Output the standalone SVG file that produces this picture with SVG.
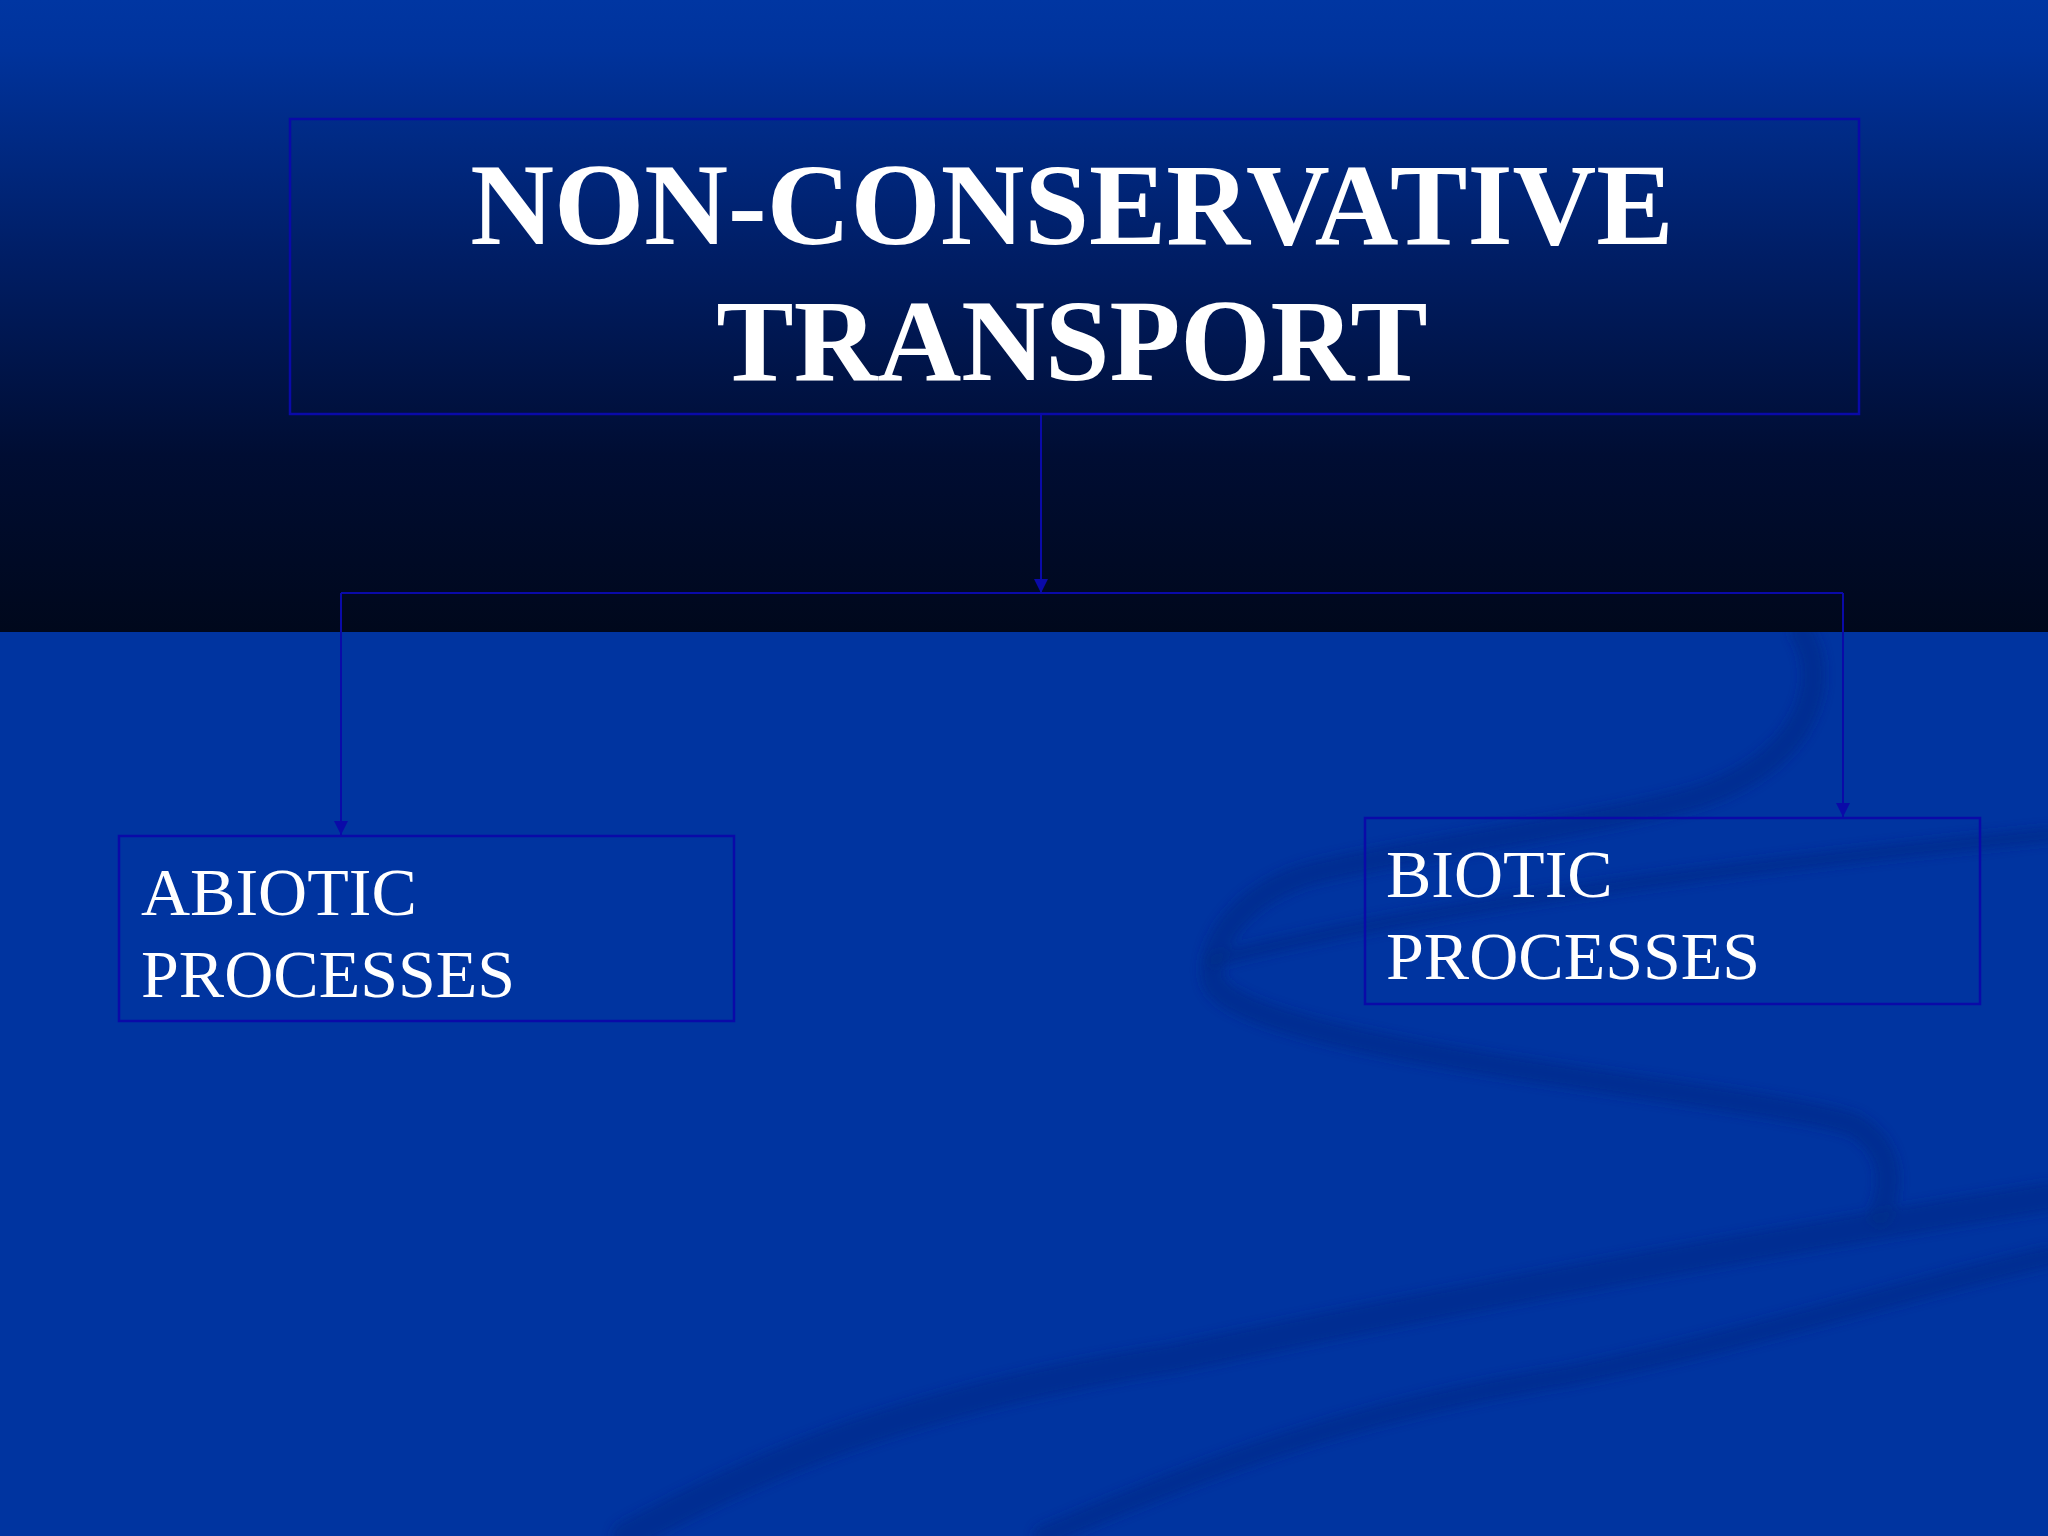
<svg xmlns="http://www.w3.org/2000/svg" width="2048" height="1536" viewBox="0 0 2048 1536">
  <defs>
    <linearGradient id="topband" x1="0" y1="0" x2="0" y2="1">
      <stop offset="0" stop-color="#0036a2"/>
      <stop offset="0.08" stop-color="#00339c"/>
      <stop offset="0.4" stop-color="#001e66"/>
      <stop offset="0.72" stop-color="#000d33"/>
      <stop offset="1" stop-color="#00081c"/>
    </linearGradient>
    <filter id="soft" x="-10%" y="-10%" width="120%" height="120%">
      <feGaussianBlur stdDeviation="5"/>
    </filter>
    <marker id="arrow" viewBox="0 0 10 10" refX="10" refY="5" markerWidth="14" markerHeight="14" markerUnits="userSpaceOnUse" orient="auto">
      <path d="M0,0 L10,5 L0,10 Z" fill="#0a0aa8"/>
    </marker>
    <style>
      .box { fill: none; stroke: #0a0aa8; stroke-width: 2.5; }
      .conn { fill: none; stroke: #0a0aa8; stroke-width: 2; }
      .title { font-family: "Liberation Serif", "Times New Roman", serif; font-weight: bold; font-size: 116px; fill: #ffffff; }
      .label { font-family: "Liberation Serif", "Times New Roman", serif; font-size: 68px; fill: #ffffff; }
      .swoosh { fill: none; stroke: #002c86; stroke-linecap: round; opacity: 0.55; }
    </style>
  </defs>

  <!-- background -->
  <rect x="0" y="0" width="2048" height="1536" fill="#0034a0"/>
  <g id="swooshes" filter="url(#soft)">
    <path class="swoosh" stroke-width="24" d="M1802,633 C1830,680 1810,760 1697,797 C1600,825 1400,850 1305,875 C1230,900 1205,955 1214,982 C1230,1020 1400,1050 1501,1066 C1650,1090 1820,1110 1854,1125 C1890,1145 1895,1180 1880,1215"/>
    <path class="swoosh" stroke-width="30" d="M627,1536 C750,1470 900,1400 1175,1358 C1400,1310 1650,1262 2048,1197"/>
    <path class="swoosh" stroke-width="22" d="M1044,1536 C1200,1470 1350,1410 1567,1376 C1750,1340 1900,1290 2048,1257"/>
    <path class="swoosh" stroke-width="16" d="M1214,960 C1450,900 1800,860 2048,835"/>
  </g>
  <rect x="0" y="0" width="2048" height="632" fill="url(#topband)"/>

  <!-- nodes -->
  <g id="node-title">
    <rect class="box" x="290" y="119" width="1569" height="295"/>
    <text class="title" x="1072" y="244" text-anchor="middle">NON-CONSERVATIVE</text>
    <text class="title" x="1072" y="380" text-anchor="middle">TRANSPORT</text>
  </g>
  <g id="node-abiotic">
    <rect class="box" x="119" y="836" width="615" height="185"/>
    <text class="label" x="141" y="915">ABIOTIC</text>
    <text class="label" x="141" y="997">PROCESSES</text>
  </g>
  <g id="node-biotic">
    <rect class="box" x="1365" y="818" width="615" height="186"/>
    <text class="label" x="1386" y="897">BIOTIC</text>
    <text class="label" x="1386" y="979">PROCESSES</text>
  </g>

  <!-- connectors -->
  <g id="connectors">
    <line class="conn" x1="1041" y1="414" x2="1041" y2="593" marker-end="url(#arrow)"/>
    <polyline class="conn" points="341,593 1843,593"/>
    <line class="conn" x1="341" y1="593" x2="341" y2="835" marker-end="url(#arrow)"/>
    <line class="conn" x1="1843" y1="593" x2="1843" y2="817" marker-end="url(#arrow)"/>
  </g>
</svg>
